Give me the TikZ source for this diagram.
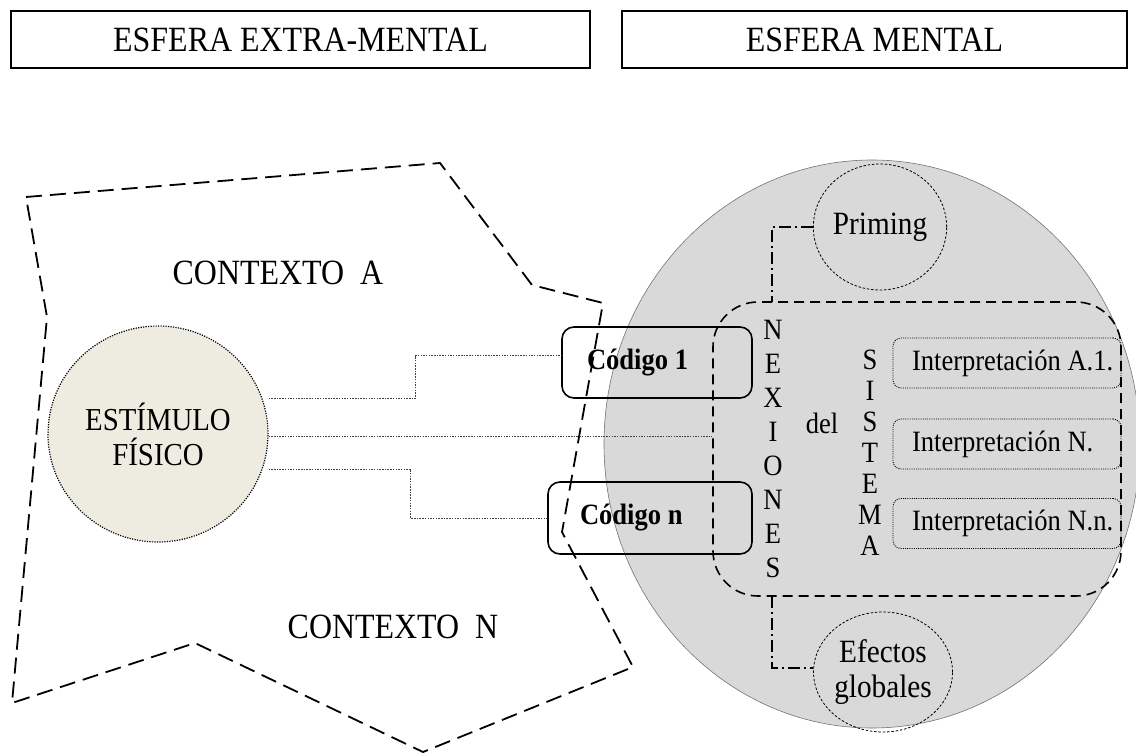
\documentclass[tikz,border=0pt]{standalone}
\usepackage{fontspec}
\setmainfont{Liberation Serif}[FakeStretch=0.9]
\usetikzlibrary{shapes.geometric}
\definecolor{stimfill}{HTML}{EEECE1}
\definecolor{mentalgrey}{HTML}{D9D9D9}
\begin{document}
\begin{tikzpicture}[x=1pt,y=-1pt,
  hdr/.style={draw, line width=1.3pt, minimum height=57pt, inner sep=0pt,
    font=\fontsize{35.5}{40}\selectfont},
  ctxline/.style={draw, line width=1.8pt, dash pattern=on 16pt off 8pt},
  bigtext/.style={font=\fontsize{35.5}{40}\selectfont, inner sep=0pt},
  stimbox/.style={ellipse, draw, fill=stimfill, line width=1.2pt,
    dash pattern=on 1.2pt off 1.3pt, minimum width=220pt, minimum height=216pt,
    align=center, font=\fontsize{32}{35}\selectfont, inner sep=0pt},
  codebox/.style={draw, line width=1.6pt, rounded corners=12pt, inner sep=0pt,
    font=\bfseries\fontsize{29.5}{32}\selectfont},
  nexbox/.style={draw, line width=1.6pt, dash pattern=on 10pt off 6pt,
    rounded corners=45pt, inner sep=0pt},
  interp/.style={draw, line width=0.9pt, dash pattern=on 1pt off 1.2pt,
    rounded corners=8pt, minimum height=50pt, minimum width=228pt, inner xsep=10pt,
    inner ysep=0pt, font=\fontsize{29.5}{32}\selectfont},
  circbox/.style={ellipse, draw, line width=0.8pt, dash pattern=on 2.5pt off 1.8pt,
    inner sep=0pt, align=center, font=\fontsize{32.5}{35}\selectfont},
  letters/.style={align=center, inner sep=0pt, font=\fontsize{29.5}{34}\selectfont},
  plain/.style={inner sep=0pt, font=\fontsize{29.5}{32}\selectfont},
  conn/.style={draw, black!75, line width=0.9pt, dash pattern=on 1.5pt off 1.2pt},
  dashdot/.style={draw, line width=1.4pt, dash pattern=on 12pt off 4pt on 2pt off 4pt}
]
\useasboundingbox (0,0) rectangle (1136,755);

% header boxes
\node[hdr, minimum width=579pt] (hA) at (300.5,39.5) {ESFERA EXTRA-MENTAL};
\node[hdr, minimum width=505pt] (hB) at (874.5,39.5) {ESFERA MENTAL};

% mental sphere
\node[ellipse, draw=black!55, line width=0.6pt, fill=mentalgrey,
  minimum width=536pt, minimum height=568pt, inner sep=0pt] (mental) at (872,444) {};

% context polygon
\draw[ctxline] (26,197) -- (440,163) -- (532,285) -- (603,303) -- (562,532)
  -- (633,667) -- (423,752) -- (195,643) -- (12,703) -- (47,317) -- cycle;

\node[bigtext] (ctxA) at (278,273) {CONTEXTO\ \ A};
\node[bigtext] (ctxN) at (393,627) {CONTEXTO\ \ N};

% stimulus
\node[stimbox] (stim) at (158,434) {ESTÍMULO\\FÍSICO};

% nexiones box
\node[nexbox, minimum width=408pt, minimum height=294pt] (nexrect) at (917,449) {};
\coordinate (nxt) at (772,302);
\coordinate (nxb) at (772,596);

% code boxes
\node[codebox, minimum width=190pt, minimum height=71pt] (code1) at (657,362.5)
  {\makebox[140pt][l]{Código 1}};
\node[codebox, minimum width=204pt, minimum height=72pt] (coden) at (650,518)
  {\makebox[140pt][l]{Código n}};

% letters
\node[letters] (nex) at (773,449) {N\\E\\X\\I\\O\\N\\E\\S};
\node[plain] (del) at (822,423) {del};
\node[letters, font=\fontsize{29.5}{31}\selectfont] (sis) at (870,453) {S\\I\\S\\T\\E\\M\\A};

% interpretations
\node[interp] (i1) at (1007,363) {\makebox[208pt][l]{\hspace*{9pt}Interpretación A.1.}};
\node[interp] (i2) at (1007,444) {\makebox[208pt][l]{\hspace*{9pt}Interpretación N.}};
\node[interp] (i3) at (1007,523.5) {\makebox[208pt][l]{\hspace*{9pt}Interpretación N.n.}};

% priming & efectos
\node[circbox, minimum width=128pt, minimum height=126pt] (priming) at (880,227) {Priming};
\node[circbox, minimum width=139pt, minimum height=120pt] (efectos) at (883,672) {Efectos\\globales};

% connectors
\draw[conn] ([yshift=36pt]stim.east) -- ++(147,0) |- ([yshift=7pt]code1.west);
\draw[conn] ([yshift=-2pt]stim.east) -- ([yshift=-2pt]stim.east -| nexrect.west);
\draw[conn] ([yshift=-35pt]stim.east) -- ++(142,0) |- (coden.west);

\draw[dashdot] (priming.west) -| (nxt);
\draw[dashdot] (nxb) |- ([yshift=4pt]efectos.west);
\end{tikzpicture}
\end{document}
